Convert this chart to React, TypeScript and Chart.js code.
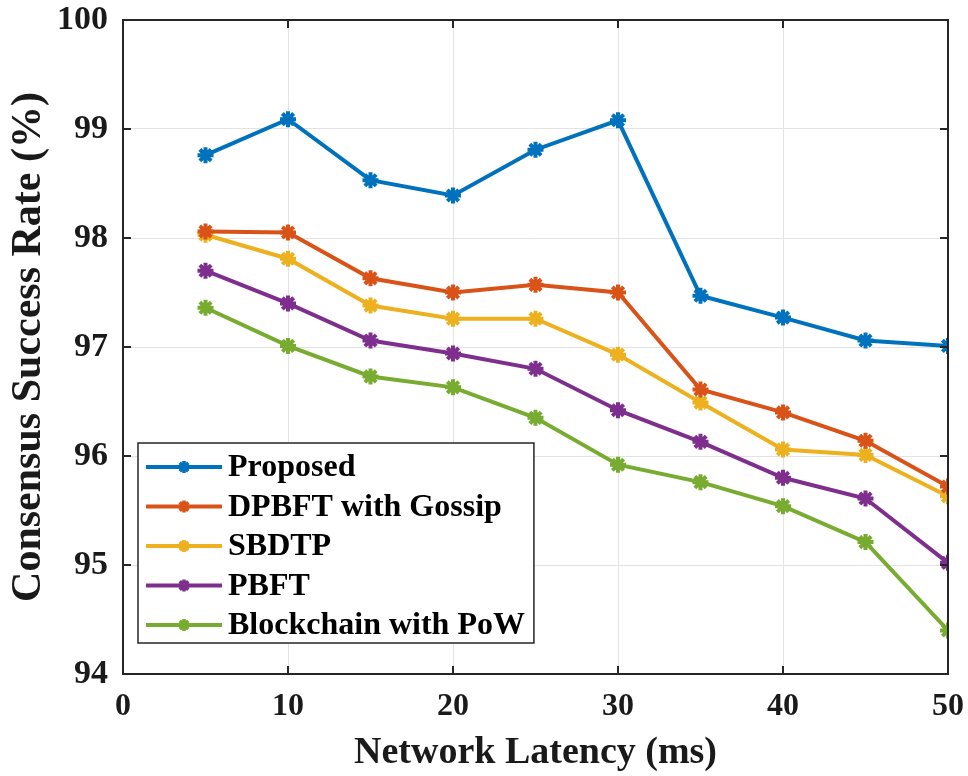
import React, { useEffect, useRef } from "react";
import { Chart, registerables } from "chart.js";

Chart.register(...registerables);

const latency = [5, 10, 15, 20, 25, 30, 35, 40, 45, 50];
const proposed = [98.76, 99.09, 98.53, 98.39, 98.81, 99.08, 97.47, 97.27, 97.06, 97.01];
const dpbftGossip = [98.06, 98.05, 97.63, 97.5, 97.57, 97.5, 96.61, 96.4, 96.14, 95.72];
const sbdtp = [98.03, 97.81, 97.38, 97.26, 97.26, 96.93, 96.49, 96.06, 96.01, 95.63];
const pbft = [97.7, 97.4, 97.06, 96.94, 96.8, 96.42, 96.13, 95.8, 95.61, 95.02];
const powChain = [97.36, 97.01, 96.73, 96.63, 96.35, 95.92, 95.76, 95.54, 95.21, 94.4];

const seriesNames = ["Proposed", "DPBFT with Gossip", "SBDTP", "PBFT", "Blockchain with PoW"];
const seriesValues = [proposed, dpbftGossip, sbdtp, pbft, powChain];
const seriesColors = ["#0072BD", "#D95319", "#EDB120", "#7E2F8E", "#77AC30"];

const xTitle = "Network Latency (ms)";
const yTitle = "Consensus Success Rate (%)";

const FONT = "'Liberation Serif', 'Times New Roman', serif";
const AXIS_COLOR = "#262626";
const TEXT_COLOR = "#1a1a1a";

const boxPlugin = {
  id: "matlabBox",
  afterDatasetsDraw(chart: any) {
    const { ctx, chartArea: a, scales } = chart;
    ctx.save();
    ctx.strokeStyle = AXIS_COLOR;
    ctx.lineWidth = 2;
    ctx.strokeRect(a.left, a.top, a.right - a.left, a.bottom - a.top);
    const tl = 8;
    ctx.beginPath();
    scales.x.ticks.forEach((t: any) => {
      const px = scales.x.getPixelForValue(t.value);
      ctx.moveTo(px, a.bottom);
      ctx.lineTo(px, a.bottom - tl);
      ctx.moveTo(px, a.top);
      ctx.lineTo(px, a.top + tl);
    });
    scales.y.ticks.forEach((t: any) => {
      const py = scales.y.getPixelForValue(t.value);
      ctx.moveTo(a.left, py);
      ctx.lineTo(a.left + tl, py);
      ctx.moveTo(a.right, py);
      ctx.lineTo(a.right - tl, py);
    });
    ctx.stroke();

    // legend inside the plot
    const bx = a.left + 15;
    const by = a.bottom - 231;
    const rowH = 39.5;
    ctx.font = `bold 32px ${FONT}`;
    let maxW = 0;
    seriesNames.forEach((n) => (maxW = Math.max(maxW, ctx.measureText(n).width)));
    const bw = 90 + maxW + 9;
    const bh = 200;
    ctx.fillStyle = "#ffffff";
    ctx.fillRect(bx, by, bw, bh);
    ctx.lineWidth = 1.5;
    ctx.strokeStyle = AXIS_COLOR;
    ctx.strokeRect(bx, by, bw, bh);
    seriesNames.forEach((n, i) => {
      const cy = by + 24 + i * rowH;
      ctx.strokeStyle = seriesColors[i];
      ctx.lineWidth = 4;
      ctx.beginPath();
      ctx.moveTo(bx + 8, cy);
      ctx.lineTo(bx + 84, cy);
      ctx.stroke();
      ctx.lineWidth = 3.5;
      ctx.beginPath();
      const r = 6;
      for (let k = 0; k < 4; k++) {
        const ang = (k * Math.PI) / 4;
        ctx.moveTo(bx + 46 - r * Math.cos(ang), cy - r * Math.sin(ang));
        ctx.lineTo(bx + 46 + r * Math.cos(ang), cy + r * Math.sin(ang));
      }
      ctx.stroke();
      ctx.fillStyle = "#000000";
      ctx.textBaseline = "middle";
      ctx.textAlign = "left";
      ctx.fillText(n, bx + 90, cy + 1);
    });
    ctx.restore();
  },
};

export default function App() {
  const ref = useRef<HTMLCanvasElement | null>(null);
  useEffect(() => {
    if (!ref.current) return;
    const chart = new Chart(ref.current, {
      type: "line",
      data: {
        datasets: seriesNames.map((name, i) => ({
          label: name,
          data: latency.map((x, j) => ({ x, y: seriesValues[i][j] })),
          borderColor: seriesColors[i],
          backgroundColor: seriesColors[i],
          borderWidth: 4,
          pointStyle: "star",
          pointRadius: 8,
          pointBorderWidth: 4,
          pointBackgroundColor: seriesColors[i],
          pointBorderColor: seriesColors[i],
          tension: 0,
        })),
      },
      options: {
        responsive: false,
        animation: false,
        layout: { padding: { left: 0, right: 20, top: 20, bottom: 0 } },
        plugins: { legend: { display: false }, tooltip: { enabled: false } },
        scales: {
          x: {
            type: "linear",
            min: 0,
            max: 50,
            ticks: {
              stepSize: 10,
              color: TEXT_COLOR,
              font: { family: FONT, size: 32, weight: "bold" },
              padding: 14,
              maxRotation: 0,
            },
            grid: { color: "#e3e3e3", lineWidth: 1, drawTicks: false },
            border: { display: false },
            title: {
              display: true,
              text: xTitle,
              color: TEXT_COLOR,
              font: { family: FONT, size: 38, weight: "bold" },
              padding: { top: 2, bottom: 0 },
            },
            afterFit(s: any) {
              s.height = 102;
              s.paddingLeft = 0;
              s.paddingRight = 0;
            },
          },
          y: {
            min: 94,
            max: 100,
            ticks: {
              stepSize: 1,
              color: TEXT_COLOR,
              font: { family: FONT, size: 34, weight: "bold" },
              padding: 15,
            },
            grid: { color: "#e3e3e3", lineWidth: 1, drawTicks: false },
            border: { display: false },
            title: {
              display: true,
              text: yTitle,
              color: TEXT_COLOR,
              font: { family: FONT, size: 42, weight: "bold" },
              padding: { top: 4, bottom: 0 },
            },
            afterFit(s: any) {
              s.width = 123;
              s.paddingTop = 0;
              s.paddingBottom = 0;
            },
          },
        },
      },
      plugins: [boxPlugin],
    });
    return () => chart.destroy();
  }, []);
  return (
    <div style={{ position: "fixed", left: 0, top: 0, width: 968, height: 776, background: "#fff" }}>
      <canvas ref={ref} width={968} height={776} style={{ width: 968, height: 776 }} />
    </div>
  );
}
